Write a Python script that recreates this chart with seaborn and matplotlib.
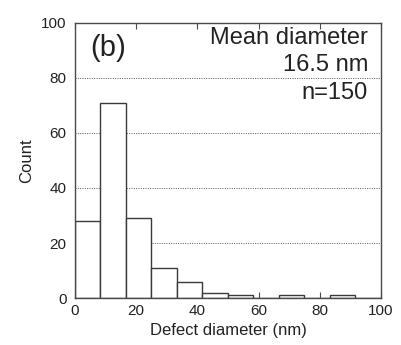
import matplotlib
matplotlib.use("Agg")
import matplotlib.pyplot as plt
import seaborn as sns
import numpy as np
import pandas as pd

# Histogram of defect diameters: 12 bins of equal width over 0-100 nm
bin_edges = list(np.linspace(0, 100, 13))
counts = [28, 71, 29, 11, 6, 2, 1, 0, 1, 0, 1, 0]
bin_centers = [(a + b) / 2 for a, b in zip(bin_edges[:-1], bin_edges[1:])]

x_ticks = [0, 20, 40, 60, 80, 100]
y_ticks = [0, 20, 40, 60, 80, 100]

df = pd.DataFrame({"diameter": bin_centers, "count": counts})

sns.set_style("white")
plt.rcParams["font.family"] = ["Liberation Sans", "DejaVu Sans"]

ink = "#3a3a3a"
fig = plt.figure(figsize=(4.01, 3.45), dpi=100)
ax = fig.add_axes([0.187, 0.136, 0.763, 0.798])

sns.histplot(data=df, x="diameter", weights="count", bins=bin_edges, ax=ax,
             color="white", alpha=1.0, edgecolor=ink, linewidth=1.0, zorder=2)

ax.set_xlim(0, 100)
ax.set_ylim(0, 100)
ax.set_xticks(x_ticks)
ax.set_yticks(y_ticks)

# dotted reference lines behind the white bars
ax.set_axisbelow(True)
for y in y_ticks[1:-1]:
    ax.axhline(y, color="#55556a", linestyle=(0, (1.0, 1.4)), linewidth=0.7, zorder=1)

for s in ax.spines.values():
    s.set_color("#4a4a4a")
    s.set_linewidth(1.0)

ax.tick_params(axis="x", which="both", direction="in", top=True, bottom=True,
               length=4, width=0.8, color="#4a4a4a", labelsize=11,
               labelcolor="#222222", pad=4)
ax.tick_params(axis="y", length=0, labelsize=11, labelcolor="#222222", pad=6)

ax.set_xlabel("Defect diameter (nm)", fontsize=12, color="#222222", labelpad=4)
ax.set_ylabel("Count", fontsize=12, color="#222222", labelpad=5)

ax.text(0.05, 0.91, "(b)", transform=ax.transAxes, fontsize=21,
        color="#222222", ha="left", va="center")
ax.text(0.958, 0.985, "Mean diameter\n16.5 nm\nn=150", transform=ax.transAxes,
        fontsize=17, color="#222222", ha="right", va="top", linespacing=1.32)

fig.savefig("out.png", dpi=100)
